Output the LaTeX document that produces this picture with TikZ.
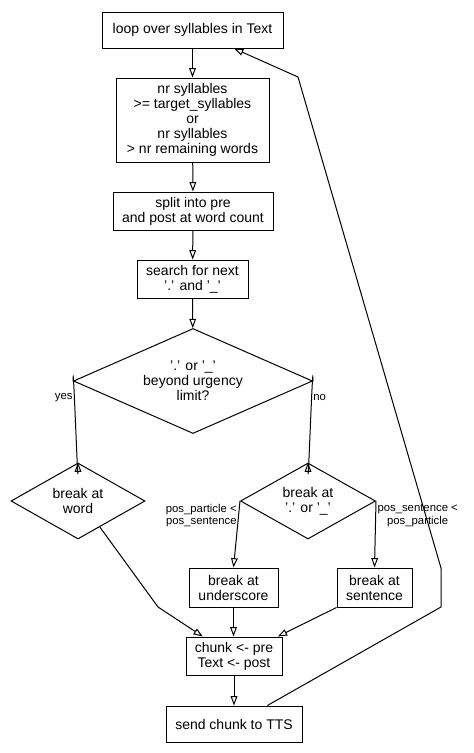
\documentclass[tikz,border=0pt]{standalone}
\usepackage{fontspec}
\setmainfont{Liberation Sans}
\usetikzlibrary{shapes.geometric,arrows.meta}

\tikzset{every picture/.style={line width=0.75pt}}
\tikzset{
    box/.style={draw, rectangle, align=center, inner sep=0pt,
                font=\fontsize{10.5}{11.25}\selectfont},
    decision/.style={draw, diamond, align=center, inner sep=0pt,
                font=\fontsize{10.5}{11.25}\selectfont},
    flow/.style={-{Triangle[open,length=7pt,width=5pt]}},
    lbl/.style={inner sep=1pt, align=center, font=\fontsize{8.5}{9.5}\selectfont}
}

\begin{document}
\begin{tikzpicture}[x=0.75pt,y=0.75pt,yscale=-1,xscale=1]
    \useasboundingbox (0,0) rectangle (474,753); %diagram 474 wide, 753 high

    %Shape: main column
    \node [box, minimum width=135.75pt, minimum height=27pt] (loop) at (192.5, 30)
          {loop over syllables in Text};
    \node [box, minimum width=114.75pt, minimum height=63pt] (cond) at (192.5, 120)
          {nr syllables\\>= target\_syllables\\or\\nr syllables\\> nr remaining words};
    \node [box, minimum width=120pt, minimum height=28.5pt] (split) at (193, 211)
          {split into pre\\and post at word count};
    \node [box, minimum width=83.25pt, minimum height=28.5pt] (search) at (192.5, 279)
          {search for next\\'.' and '\_'};

    %Shape: decisions
    \node [decision, aspect=2.28, minimum width=179.25pt, minimum height=78.75pt] (urgency) at (193, 381)
          {'.' or '\_'\\beyond urgency\\limit?};
    \node [decision, aspect=1.76, minimum width=100.5pt, minimum height=57pt] (word) at (78, 501)
          {break at\\word};
    \node [decision, aspect=1.76, minimum width=101.25pt, minimum height=57pt] (mark) at (308, 501)
          {break at\\'.' or '\_'};

    %Shape: breaks and output
    \node [box, minimum width=66.75pt, minimum height=29.25pt] (under) at (233.5, 587.5)
          {break at\\underscore};
    \node [box, minimum width=56.25pt, minimum height=29.25pt] (sent) at (374.5, 587.5)
          {break at\\sentence};
    \node [box, minimum width=72pt, minimum height=28.5pt] (chunk) at (234, 656)
          {chunk <- pre\\Text <- post};
    \node [box, minimum width=102pt, minimum height=27pt] (send) at (234, 724)
          {send chunk to TTS};

    %Bends
    \coordinate (wbend) at (158, 607);
    \coordinate (back1) at (441, 607);
    \coordinate (back2) at (441, 568);
    \coordinate (back3) at (298, 77);

    %Connectors
    \draw [flow] (loop) -- (cond);
    \draw [flow] (cond) -- (split);
    \draw [flow] (split) -- (search);
    \draw [flow] (search) -- (urgency);
    \draw [flow] (urgency.west) to[out=-90,in=90]
          node [lbl, left, pos=0.35] (lyes) {yes} (word.north);
    \draw [flow] (urgency.east) to[out=-90,in=90]
          node [lbl, right, pos=0.35] (lno) {no} (mark.north);
    \draw [flow] (mark.west) --
          node [lbl, left, pos=0.22] (lpart) {pos\_particle <\\pos\_sentence} (under.north);
    \draw [flow] (mark.east) --
          node [lbl, right, pos=0.22] (lsent) {pos\_sentence <\\pos\_particle} (sent.north);
    \draw [flow] (word.-50) -- (wbend) -- (chunk.148);
    \draw [flow] (under.south) -- (under.south |- chunk.north);
    \draw [flow] (sent.south west) -- (chunk.24);
    \draw [flow] (chunk) -- (send);
    \draw [flow] (send.29) -- (back1) -- (back2) -- (back3) -- (loop.-24);
\end{tikzpicture}
\end{document}
